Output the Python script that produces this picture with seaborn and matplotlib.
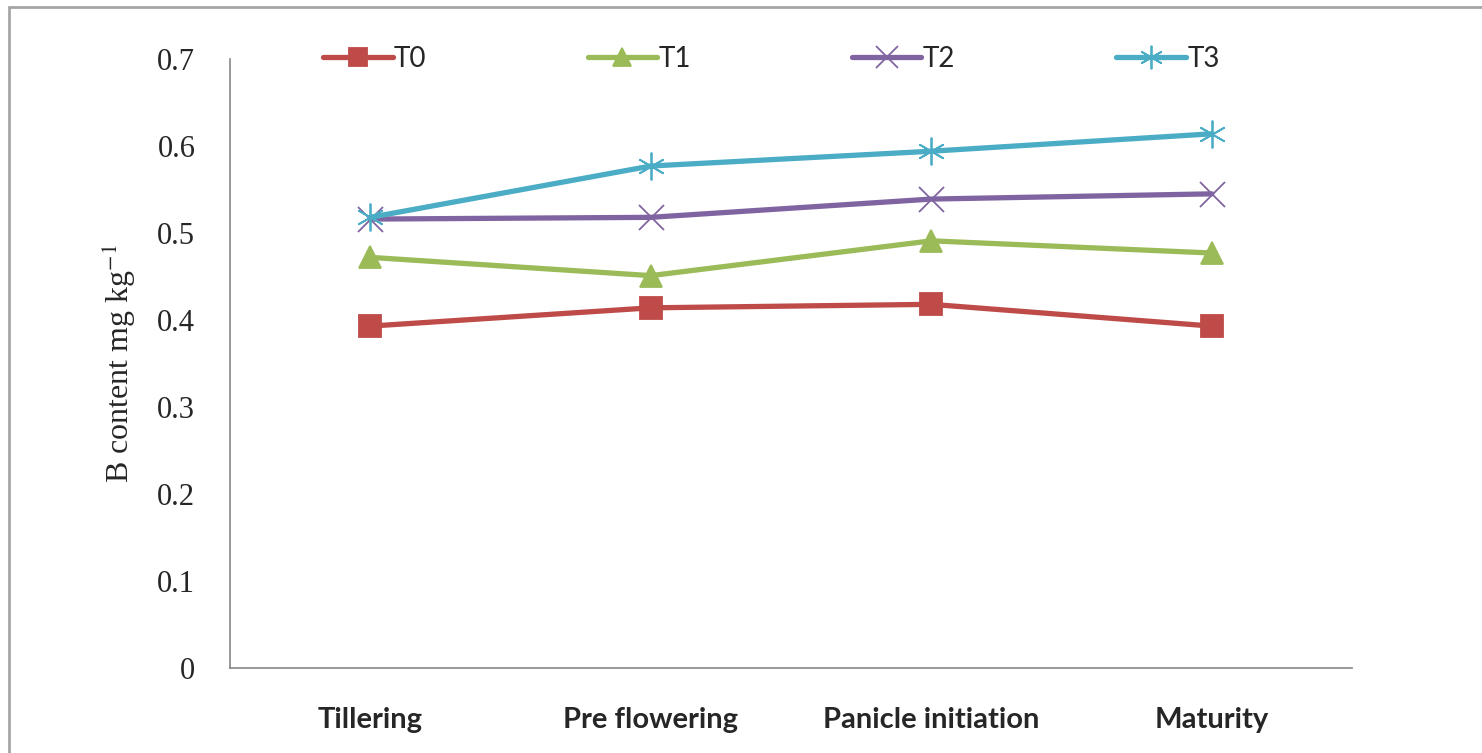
import pandas as pd
import matplotlib.pyplot as plt
import seaborn as sns
from matplotlib.patches import Rectangle

# dati
stages = ['Tillering', 'Pre flowering', 'Panicle initiation', 'Maturity']
T0 = [0.393, 0.414, 0.418, 0.393]
T1 = [0.472, 0.451, 0.491, 0.477]
T2 = [0.516, 0.518, 0.539, 0.545]
T3 = [0.518, 0.577, 0.594, 0.614]

series = {'T0': T0, 'T1': T1, 'T2': T2, 'T3': T3}
colors = {'T0': '#BE4B48', 'T1': '#9BBB59', 'T2': '#8064A2', 'T3': '#4BACC6'}
markers = {'T0': 's', 'T1': '^', 'T2': 'x', 'T3': (6, 2, 0)}
msizes = {'T0': 16, 'T1': 16, 'T2': 18, 'T3': 20}

sns.set_style('white')

fig = plt.figure(figsize=(14.82, 7.53), dpi=100)
ax = fig.add_axes([230 / 1482, 85 / 753, 1122 / 1482, 609 / 753])

for name, vals in series.items():
    d = pd.DataFrame({'pos': range(len(stages)), 'value': vals})
    sns.lineplot(data=d, x='pos', y='value', color=colors[name], marker=markers[name],
                 markersize=msizes[name], markeredgewidth=1.3, markeredgecolor=colors[name],
                 linewidth=3.8, label=name, ax=ax)

ax.set_xlim(-0.5, 3.5)
ax.set_ylim(0, 0.7)
ax.set_xticks(range(4))
ax.set_xticklabels(stages, fontfamily='Lato', fontweight='bold', fontsize=21)
ax.set_yticks([0, 0.1, 0.2, 0.3, 0.4, 0.5, 0.6, 0.7])
ax.set_yticklabels(['0', '0.1', '0.2', '0.3', '0.4', '0.5', '0.6', '0.7'],
                   fontfamily='Liberation Serif', fontsize=22)
ax.tick_params(axis='x', length=0, pad=28)
ax.tick_params(axis='y', length=0, pad=25)
ax.set_xlabel('')
ax.set_ylabel('B content mg kg$^{-1}$', fontfamily='Liberation Serif', fontsize=23, labelpad=14)
ax.yaxis.label.set_math_fontfamily('stix')

for s in ['top', 'right']:
    ax.spines[s].set_visible(False)
for s in ['left', 'bottom']:
    ax.spines[s].set_color('#868686')
    ax.spines[s].set_linewidth(1.2)

handles, labels = ax.get_legend_handles_labels()
ax.legend(handles, labels, loc='center left', bbox_to_anchor=(0.083, 1.0),
          ncol=4, frameon=False, handlelength=2.5, handletextpad=0.05,
          columnspacing=5.8, borderpad=0, borderaxespad=0, markerscale=0.85,
          prop={'family': 'Lato', 'size': 20})

# cornice esterna
fig.patches.append(Rectangle((9 / 1482, -0.1), 1.2, 1 - 7 / 753 + 0.1,
                             transform=fig.transFigure, fill=False,
                             edgecolor='#A6A6A6', linewidth=2.0))

fig.savefig('out.png', dpi=100)
